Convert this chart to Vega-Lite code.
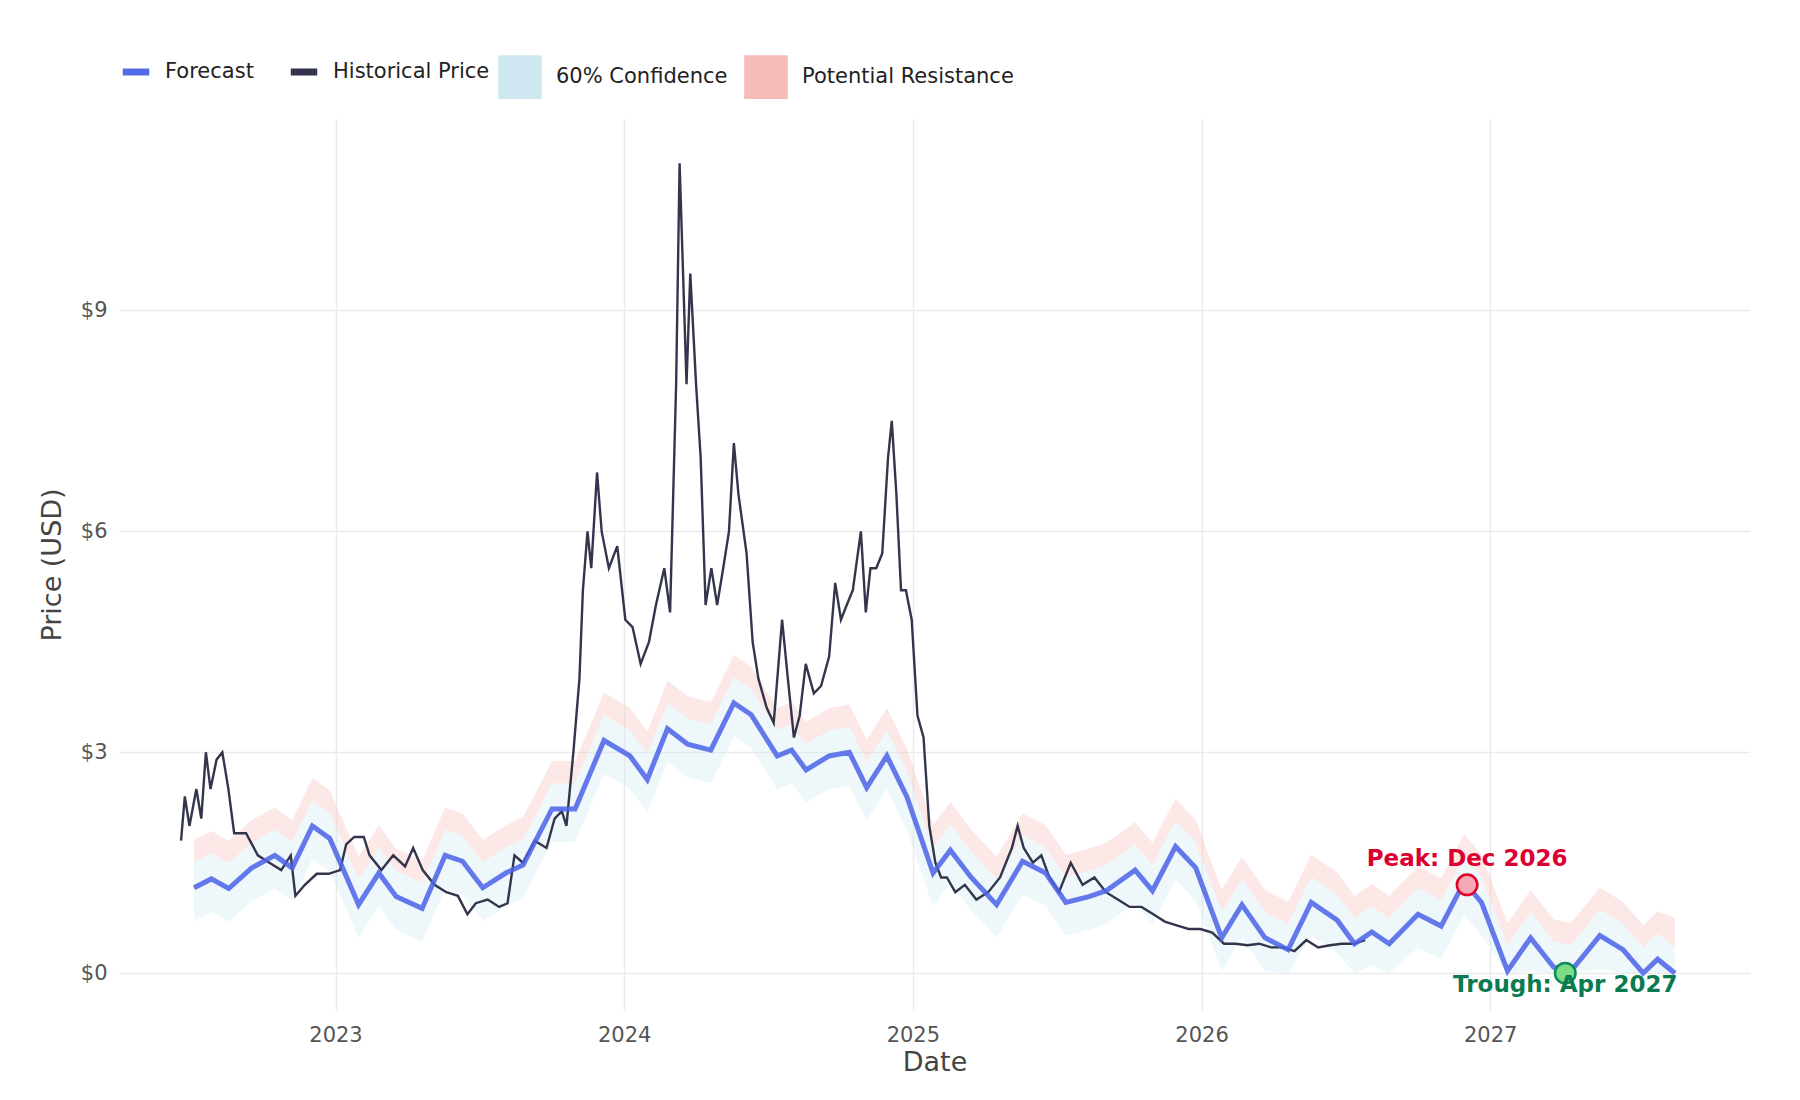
{"$schema":"https://vega.github.io/schema/vega-lite/v6.json","width":1800,"height":1100,"autosize":{"type":"fit","contains":"padding"},"padding":{"left":38,"top":55,"right":50,"bottom":25},"background":"white",
"config":{"view":{"stroke":null},"font":"DejaVu Sans","axis":{"labelFont":"DejaVu Sans","titleFont":"DejaVu Sans","labelColor":"#555","titleColor":"#444","labelFontSize":21,"titleFontSize":27,"titleFontWeight":"normal","grid":true,"gridColor":"#ebebeb","gridWidth":1.5,"domain":false,"ticks":false},"legend":{"labelFont":"DejaVu Sans","labelFontSize":21,"labelColor":"#222","labelLimit":400,"orient":"top","direction":"horizontal","title":null}},
"datasets":{
"fc":[{"t":2022.51,"f":1.16,"lo":0.71,"hi":1.51,"res":1.81},{"t":2022.57,"f":1.28,"lo":0.83,"hi":1.63,"res":1.93},{"t":2022.63,"f":1.15,"lo":0.7,"hi":1.5,"res":1.8},{"t":2022.71,"f":1.43,"lo":0.98,"hi":1.78,"res":2.08},{"t":2022.79,"f":1.6,"lo":1.15,"hi":1.95,"res":2.25},{"t":2022.85,"f":1.43,"lo":0.98,"hi":1.78,"res":2.08},{"t":2022.92,"f":2.0,"lo":1.55,"hi":2.35,"res":2.65},{"t":2022.98,"f":1.83,"lo":1.38,"hi":2.18,"res":2.48},{"t":2023.08,"f":0.93,"lo":0.48,"hi":1.28,"res":1.58},{"t":2023.15,"f":1.36,"lo":0.91,"hi":1.71,"res":2.01},{"t":2023.21,"f":1.04,"lo":0.59,"hi":1.39,"res":1.69},{"t":2023.3,"f":0.88,"lo":0.43,"hi":1.23,"res":1.53},{"t":2023.38,"f":1.6,"lo":1.15,"hi":1.95,"res":2.25},{"t":2023.44,"f":1.52,"lo":1.07,"hi":1.87,"res":2.17},{"t":2023.51,"f":1.16,"lo":0.71,"hi":1.51,"res":1.81},{"t":2023.59,"f":1.36,"lo":0.91,"hi":1.71,"res":2.01},{"t":2023.65,"f":1.47,"lo":1.02,"hi":1.82,"res":2.12},{"t":2023.75,"f":2.23,"lo":1.78,"hi":2.58,"res":2.88},{"t":2023.83,"f":2.23,"lo":1.78,"hi":2.58,"res":2.88},{"t":2023.93,"f":3.16,"lo":2.71,"hi":3.51,"res":3.81},{"t":2024.02,"f":2.95,"lo":2.5,"hi":3.3,"res":3.6},{"t":2024.08,"f":2.63,"lo":2.18,"hi":2.98,"res":3.28},{"t":2024.15,"f":3.32,"lo":2.87,"hi":3.67,"res":3.97},{"t":2024.22,"f":3.11,"lo":2.66,"hi":3.46,"res":3.76},{"t":2024.3,"f":3.03,"lo":2.58,"hi":3.38,"res":3.68},{"t":2024.38,"f":3.67,"lo":3.22,"hi":4.02,"res":4.32},{"t":2024.44,"f":3.51,"lo":3.06,"hi":3.86,"res":4.16},{"t":2024.53,"f":2.95,"lo":2.5,"hi":3.3,"res":3.6},{"t":2024.58,"f":3.03,"lo":2.58,"hi":3.38,"res":3.68},{"t":2024.63,"f":2.76,"lo":2.31,"hi":3.11,"res":3.41},{"t":2024.71,"f":2.95,"lo":2.5,"hi":3.3,"res":3.6},{"t":2024.78,"f":3.0,"lo":2.55,"hi":3.35,"res":3.65},{"t":2024.84,"f":2.52,"lo":2.07,"hi":2.87,"res":3.17},{"t":2024.91,"f":2.95,"lo":2.5,"hi":3.3,"res":3.6},{"t":2024.98,"f":2.39,"lo":1.94,"hi":2.74,"res":3.04},{"t":2025.07,"f":1.36,"lo":0.91,"hi":1.71,"res":2.01},{"t":2025.13,"f":1.67,"lo":1.22,"hi":2.02,"res":2.32},{"t":2025.2,"f":1.31,"lo":0.86,"hi":1.66,"res":1.96},{"t":2025.29,"f":0.93,"lo":0.48,"hi":1.28,"res":1.58},{"t":2025.38,"f":1.52,"lo":1.07,"hi":1.87,"res":2.17},{"t":2025.46,"f":1.36,"lo":0.91,"hi":1.71,"res":2.01},{"t":2025.53,"f":0.96,"lo":0.51,"hi":1.31,"res":1.61},{"t":2025.61,"f":1.04,"lo":0.59,"hi":1.39,"res":1.69},{"t":2025.67,"f":1.12,"lo":0.67,"hi":1.47,"res":1.77},{"t":2025.77,"f":1.4,"lo":0.95,"hi":1.75,"res":2.05},{"t":2025.83,"f":1.12,"lo":0.67,"hi":1.47,"res":1.77},{"t":2025.91,"f":1.72,"lo":1.27,"hi":2.07,"res":2.37},{"t":2025.98,"f":1.43,"lo":0.98,"hi":1.78,"res":2.08},{"t":2026.07,"f":0.48,"lo":0.03,"hi":0.83,"res":1.13},{"t":2026.14,"f":0.93,"lo":0.48,"hi":1.28,"res":1.58},{"t":2026.22,"f":0.48,"lo":0.03,"hi":0.83,"res":1.13},{"t":2026.3,"f":0.32,"lo":0,"hi":0.67,"res":0.97},{"t":2026.38,"f":0.96,"lo":0.51,"hi":1.31,"res":1.61},{"t":2026.47,"f":0.72,"lo":0.27,"hi":1.07,"res":1.37},{"t":2026.53,"f":0.4,"lo":0,"hi":0.75,"res":1.05},{"t":2026.59,"f":0.56,"lo":0.11,"hi":0.91,"res":1.21},{"t":2026.65,"f":0.4,"lo":0,"hi":0.75,"res":1.05},{"t":2026.75,"f":0.8,"lo":0.35,"hi":1.15,"res":1.45},{"t":2026.83,"f":0.64,"lo":0.19,"hi":0.99,"res":1.29},{"t":2026.91,"f":1.24,"lo":0.79,"hi":1.59,"res":1.89},{"t":2026.97,"f":0.96,"lo":0.51,"hi":1.31,"res":1.61},{"t":2027.06,"f":0.03,"lo":0,"hi":0.38,"res":0.68},{"t":2027.14,"f":0.48,"lo":0.03,"hi":0.83,"res":1.13},{"t":2027.22,"f":0.08,"lo":0,"hi":0.43,"res":0.73},{"t":2027.28,"f":0.03,"lo":0,"hi":0.38,"res":0.68},{"t":2027.38,"f":0.51,"lo":0.06,"hi":0.86,"res":1.16},{"t":2027.46,"f":0.32,"lo":0,"hi":0.67,"res":0.97},{"t":2027.53,"f":0,"lo":0,"hi":0.35,"res":0.65},{"t":2027.58,"f":0.19,"lo":0,"hi":0.54,"res":0.84},{"t":2027.64,"f":0,"lo":0,"hi":0.35,"res":0.75}],
"hist":[{"t":2022.465,"p":1.8},{"t":2022.478,"p":2.4},{"t":2022.494,"p":2.0},{"t":2022.518,"p":2.5},{"t":2022.535,"p":2.1},{"t":2022.551,"p":3.0},{"t":2022.567,"p":2.5},{"t":2022.588,"p":2.9},{"t":2022.608,"p":3.0},{"t":2022.629,"p":2.5},{"t":2022.649,"p":1.9},{"t":2022.69,"p":1.9},{"t":2022.731,"p":1.6},{"t":2022.771,"p":1.5},{"t":2022.812,"p":1.4},{"t":2022.845,"p":1.6},{"t":2022.861,"p":1.05},{"t":2022.894,"p":1.2},{"t":2022.935,"p":1.35},{"t":2022.976,"p":1.35},{"t":2023.016,"p":1.4},{"t":2023.037,"p":1.75},{"t":2023.065,"p":1.85},{"t":2023.098,"p":1.85},{"t":2023.118,"p":1.6},{"t":2023.159,"p":1.4},{"t":2023.2,"p":1.6},{"t":2023.241,"p":1.45},{"t":2023.269,"p":1.7},{"t":2023.302,"p":1.4},{"t":2023.343,"p":1.2},{"t":2023.384,"p":1.1},{"t":2023.424,"p":1.05},{"t":2023.457,"p":0.8},{"t":2023.486,"p":0.95},{"t":2023.527,"p":1.0},{"t":2023.567,"p":0.9},{"t":2023.596,"p":0.95},{"t":2023.62,"p":1.6},{"t":2023.649,"p":1.5},{"t":2023.69,"p":1.8},{"t":2023.731,"p":1.7},{"t":2023.759,"p":2.1},{"t":2023.784,"p":2.2},{"t":2023.8,"p":2.0},{"t":2023.824,"p":3.0},{"t":2023.845,"p":4.0},{"t":2023.857,"p":5.2},{"t":2023.873,"p":6.0},{"t":2023.886,"p":5.5},{"t":2023.906,"p":6.8},{"t":2023.922,"p":6.0},{"t":2023.947,"p":5.5},{"t":2023.976,"p":5.8},{"t":2024.004,"p":4.8},{"t":2024.029,"p":4.7},{"t":2024.057,"p":4.2},{"t":2024.086,"p":4.5},{"t":2024.11,"p":5.0},{"t":2024.139,"p":5.5},{"t":2024.159,"p":4.9},{"t":2024.18,"p":8.0},{"t":2024.192,"p":11.0},{"t":2024.204,"p":9.5},{"t":2024.216,"p":8.0},{"t":2024.229,"p":9.5},{"t":2024.249,"p":8.0},{"t":2024.265,"p":7.0},{"t":2024.282,"p":5.0},{"t":2024.302,"p":5.5},{"t":2024.322,"p":5.0},{"t":2024.343,"p":5.5},{"t":2024.363,"p":6.0},{"t":2024.38,"p":7.2},{"t":2024.396,"p":6.5},{"t":2024.424,"p":5.7},{"t":2024.445,"p":4.5},{"t":2024.465,"p":4.0},{"t":2024.494,"p":3.6},{"t":2024.518,"p":3.4},{"t":2024.547,"p":4.8},{"t":2024.567,"p":4.0},{"t":2024.588,"p":3.2},{"t":2024.608,"p":3.5},{"t":2024.629,"p":4.2},{"t":2024.657,"p":3.8},{"t":2024.682,"p":3.9},{"t":2024.71,"p":4.3},{"t":2024.731,"p":5.3},{"t":2024.751,"p":4.8},{"t":2024.771,"p":5.0},{"t":2024.792,"p":5.2},{"t":2024.82,"p":6.0},{"t":2024.837,"p":4.9},{"t":2024.853,"p":5.5},{"t":2024.873,"p":5.5},{"t":2024.894,"p":5.7},{"t":2024.914,"p":7.0},{"t":2024.927,"p":7.5},{"t":2024.943,"p":6.5},{"t":2024.959,"p":5.2},{"t":2024.976,"p":5.2},{"t":2024.996,"p":4.8},{"t":2025.016,"p":3.5},{"t":2025.037,"p":3.2},{"t":2025.057,"p":2.0},{"t":2025.078,"p":1.5},{"t":2025.098,"p":1.3},{"t":2025.118,"p":1.3},{"t":2025.147,"p":1.1},{"t":2025.18,"p":1.2},{"t":2025.22,"p":1.0},{"t":2025.261,"p":1.1},{"t":2025.302,"p":1.3},{"t":2025.343,"p":1.7},{"t":2025.363,"p":2.0},{"t":2025.384,"p":1.7},{"t":2025.416,"p":1.5},{"t":2025.445,"p":1.6},{"t":2025.473,"p":1.3},{"t":2025.506,"p":1.1},{"t":2025.547,"p":1.5},{"t":2025.588,"p":1.2},{"t":2025.629,"p":1.3},{"t":2025.669,"p":1.1},{"t":2025.71,"p":1.0},{"t":2025.751,"p":0.9},{"t":2025.792,"p":0.9},{"t":2025.833,"p":0.8},{"t":2025.873,"p":0.7},{"t":2025.914,"p":0.65},{"t":2025.955,"p":0.6},{"t":2025.996,"p":0.6},{"t":2026.037,"p":0.55},{"t":2026.078,"p":0.4},{"t":2026.118,"p":0.4},{"t":2026.159,"p":0.38},{"t":2026.2,"p":0.4},{"t":2026.241,"p":0.35},{"t":2026.282,"p":0.35},{"t":2026.322,"p":0.3},{"t":2026.363,"p":0.45},{"t":2026.404,"p":0.35},{"t":2026.445,"p":0.38},{"t":2026.486,"p":0.4},{"t":2026.527,"p":0.4},{"t":2026.567,"p":0.45}],
"ann":[{"t":2026.92,"v":1.2,"label":"Peak: Dec 2026","kind":"peak"},{"t":2027.26,"v":0.0,"label":"Trough: Apr 2027","kind":"trough"}]},
"encoding":{"x":{"field":"t","type":"quantitative","scale":{"domain":[2022.25,2027.9],"nice":false,"zero":false},"axis":{"title":"Date","values":[2023,2024,2025,2026,2027],"format":"d","labelPadding":14}}},
"layer":[
{"data":{"name":"fc"},"mark":{"type":"line","strokeWidth":4.5,"opacity":0},"encoding":{"y":{"field":"f","type":"quantitative","scale":{"domain":[-0.5,11.6],"nice":false},"axis":{"title":"Price (USD)","values":[0,3,6,9],"labelExpr":"'$' + datum.value","labelPadding":12,"titlePadding":14}},"color":{"datum":"Forecast","type":"nominal","scale":{"domain":["Forecast","Historical Price"],"range":["#4a63e8","#272a42"]},"legend":{"symbolType":"stroke","symbolStrokeWidth":7,"symbolSize":700,"symbolOpacity":1,"labelOffset":12,"columnPadding":22,"offset":20}}}},
{"data":{"name":"fc"},"mark":{"type":"area","fillOpacity":0.35},"encoding":{"y":{"field":"lo","type":"quantitative"},"y2":{"field":"hi"},"fill":{"datum":"60% Confidence","type":"nominal","scale":{"domain":["60% Confidence","Potential Resistance"],"range":["#cfe7f0","#f6bcb8"]},"legend":{"symbolType":"square","symbolSize":1900,"symbolStrokeWidth":0,"offset":20,"labelOffset":14,"columnPadding":16,"encode":{"symbols":{"update":{"opacity":{"value":1},"fillOpacity":{"value":1}}}}}}}},
{"data":{"name":"fc"},"mark":{"type":"area","fillOpacity":0.35},"encoding":{"y":{"field":"hi","type":"quantitative"},"y2":{"field":"res"},"fill":{"datum":"Potential Resistance","type":"nominal"}}},
{"data":{"name":"hist"},"mark":{"type":"line","strokeWidth":2.4,"opacity":0.95},"encoding":{"y":{"field":"p","type":"quantitative"},"color":{"datum":"Historical Price","type":"nominal"}}},
{"data":{"name":"fc"},"mark":{"type":"line","strokeWidth":5,"opacity":0.85},"encoding":{"y":{"field":"f","type":"quantitative"},"color":{"datum":"Forecast","type":"nominal"}}},
{"data":{"name":"ann"},"transform":[{"filter":"datum.kind=='peak'"}],"mark":{"type":"point","filled":true,"size":420,"strokeWidth":2.5,"fill":"#f4a9b4","stroke":"#e3002b","opacity":1},"encoding":{"y":{"field":"v","type":"quantitative"}}},
{"data":{"name":"ann"},"transform":[{"filter":"datum.kind=='trough'"}],"mark":{"type":"point","filled":true,"size":420,"strokeWidth":2.5,"fill":"#7bdc86","stroke":"#0b8a5a","opacity":1},"encoding":{"y":{"field":"v","type":"quantitative"}}},
{"data":{"name":"ann"},"transform":[{"filter":"datum.kind=='peak'"}],"mark":{"type":"text","fontWeight":"bold","fontSize":23,"color":"#dc0030","dy":-26},"encoding":{"y":{"field":"v","type":"quantitative"},"text":{"field":"label"}}},
{"data":{"name":"ann"},"transform":[{"filter":"datum.kind=='trough'"}],"mark":{"type":"text","fontWeight":"bold","fontSize":23,"color":"#0a7a50","dy":12},"encoding":{"y":{"field":"v","type":"quantitative"},"text":{"field":"label"}}}
]}
